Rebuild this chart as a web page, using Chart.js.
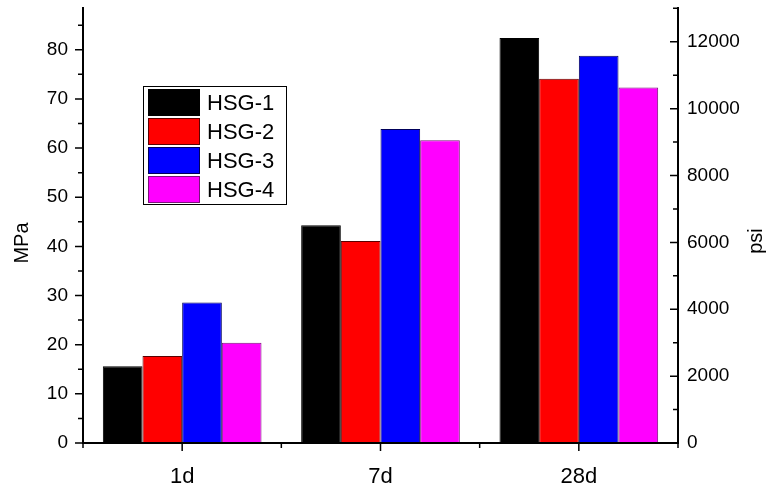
<!DOCTYPE html>
<html>
<head>
<meta charset="utf-8">
<script src="https://cdn.jsdelivr.net/npm/chart.js@4"></script>
<style>
  html, body { margin: 0; padding: 0; background: #fff; }
  #chart { display: block; }
</style>
</head>
<body>
<canvas id="chart" width="771" height="488"></canvas>
<script>
// compressive strength by age, MPa
const ages = ['1d', '7d', '28d'];
const seriesNames = ['HSG-1', 'HSG-2', 'HSG-3', 'HSG-4'];
const hsg1 = [15.6, 44.3, 82.4];
const hsg2 = [17.7, 41.1, 74.1];
const hsg3 = [28.6, 63.9, 78.8];
const hsg4 = [20.4, 61.6, 72.3];
const fillColors = ['#000000', '#ff0000', '#0000ff', '#ff00ff'];
const edgeColors = ['#000000', '#5a0000', '#00005a', '#7a107a'];

const mpaTicks = [0, 10, 20, 30, 40, 50, 60, 70, 80];
const psiTicks = [0, 2000, 4000, 6000, 8000, 10000, 12000];
const mpaMax = 88.7;
const psiMax = 13040;

const FONT = 'Liberation Sans, Arial, sans-serif';

// Origin style axes: outward ticks left/bottom, inward ticks right, minor ticks,
// boxed legend inside the plot and bottom-to-top axis titles
const originPlugin = {
    id: 'originPlugin',
    afterDraw(chart) {
        const ctx = chart.ctx;
        const { left, right, top, bottom } = chart.chartArea;
        const xs = chart.scales.x;
        const ys = chart.scales.y;
        const ys2 = chart.scales.y2;

        ctx.save();
        ctx.strokeStyle = '#000';
        ctx.lineWidth = 2;
        ctx.beginPath();
        ctx.moveTo(left, top); ctx.lineTo(left, bottom);
        ctx.moveTo(right, top); ctx.lineTo(right, bottom);
        ctx.moveTo(left - 1, bottom); ctx.lineTo(right + 1, bottom);
        ctx.stroke();

        ctx.lineWidth = 1.5;
        ctx.beginPath();
        mpaTicks.forEach(v => {
            const py = ys.getPixelForValue(v);
            ctx.moveTo(left, py); ctx.lineTo(left - 8, py);
            if (v + 5 <= mpaMax) {
                const my = ys.getPixelForValue(v + 5);
                ctx.moveTo(left, my); ctx.lineTo(left - 5, my);
            }
        });
        psiTicks.forEach(v => {
            const py = ys2.getPixelForValue(v);
            ctx.moveTo(right, py); ctx.lineTo(right - 8, py);
            if (v + 1000 <= psiMax) {
                const my = ys2.getPixelForValue(v + 1000);
                ctx.moveTo(right, my); ctx.lineTo(right - 5, my);
            }
        });
        const half = (xs.getPixelForValue(1) - xs.getPixelForValue(0)) / 2;
        ages.forEach((_, i) => {
            const px = xs.getPixelForValue(i);
            ctx.moveTo(px, bottom); ctx.lineTo(px, bottom + 8);
        });
        for (let i = 0; i <= ages.length; i++) {
            const bx = xs.getPixelForValue(0) - half + i * 2 * half;
            ctx.moveTo(bx, bottom); ctx.lineTo(bx, bottom + 5);
        }
        ctx.stroke();

        // legend box
        const lx = 143, ly = 86, lw = 143, lh = 118;
        ctx.fillStyle = '#fff';
        ctx.fillRect(lx, ly, lw, lh);
        ctx.lineWidth = 1;
        ctx.strokeStyle = '#000';
        ctx.strokeRect(lx + 0.5, ly + 0.5, lw, lh);
        ctx.font = '22px ' + FONT;
        ctx.textBaseline = 'middle';
        ctx.textAlign = 'left';
        chart.data.datasets.forEach((ds, i) => {
            const ry = ly + 3 + i * 29;
            ctx.fillStyle = ds.backgroundColor;
            ctx.fillRect(lx + 5, ry, 52, 27);
            ctx.strokeStyle = ds.borderColor;
            ctx.strokeRect(lx + 5.5, ry + 0.5, 51, 26);
            ctx.fillStyle = '#000';
            ctx.fillText(ds.label, lx + 64, ry + 15);
        });

        // axis titles, reading bottom to top
        ctx.font = '20px ' + FONT;
        ctx.textAlign = 'center';
        ctx.textBaseline = 'alphabetic';
        ctx.fillStyle = '#000';
        ctx.save();
        ctx.translate(28, 243);
        ctx.rotate(-Math.PI / 2);
        ctx.fillText('MPa', 0, 0);
        ctx.restore();
        ctx.save();
        ctx.translate(762, 241);
        ctx.rotate(-Math.PI / 2);
        ctx.fillText('psi', 0, 0);
        ctx.restore();

        ctx.restore();
    }
};

const seriesValues = [hsg1, hsg2, hsg3, hsg4];

function noPad(scale) {
    scale.paddingTop = 0;
    scale.paddingBottom = 0;
    scale.paddingLeft = 0;
    scale.paddingRight = 0;
}

new Chart(document.getElementById('chart'), {
    type: 'bar',
    data: {
        labels: ages,
        datasets: seriesNames.map((name, i) => ({
            label: name,
            data: seriesValues[i],
            backgroundColor: fillColors[i],
            borderColor: edgeColors[i],
            borderWidth: 1,
            categoryPercentage: 0.8,
            barPercentage: 1.0,
            yAxisID: 'y'
        }))
    },
    options: {
        responsive: false,
        animation: false,
        devicePixelRatio: 1,
        layout: { padding: { top: 7, left: 0, right: 0, bottom: 0 } },
        plugins: {
            legend: { display: false },
            title: { display: false },
            tooltip: { enabled: false }
        },
        scales: {
            x: {
                grid: { display: false, drawTicks: false },
                border: { display: false },
                ticks: {
                    color: '#000',
                    font: { family: FONT, size: 22 },
                    padding: 21,
                    maxRotation: 0
                },
                afterFit(scale) { scale.height = 45; noPad(scale); }
            },
            y: {
                position: 'left',
                min: 0,
                max: mpaMax,
                grid: { display: false, drawTicks: false },
                border: { display: false },
                afterBuildTicks(scale) { scale.ticks = mpaTicks.map(v => ({ value: v })); },
                ticks: {
                    color: '#000',
                    font: { family: FONT, size: 19 },
                    padding: 15,
                    callback: v => String(v)
                },
                afterFit(scale) { scale.width = 83; noPad(scale); }
            },
            y2: {
                position: 'right',
                min: 0,
                max: psiMax,
                grid: { display: false, drawTicks: false },
                border: { display: false },
                afterBuildTicks(scale) { scale.ticks = psiTicks.map(v => ({ value: v })); },
                ticks: {
                    color: '#000',
                    font: { family: FONT, size: 19 },
                    padding: 9,
                    callback: v => String(v)
                },
                afterFit(scale) { scale.width = 93; noPad(scale); }
            }
        }
    },
    plugins: [originPlugin]
});
</script>
</body>
</html>
